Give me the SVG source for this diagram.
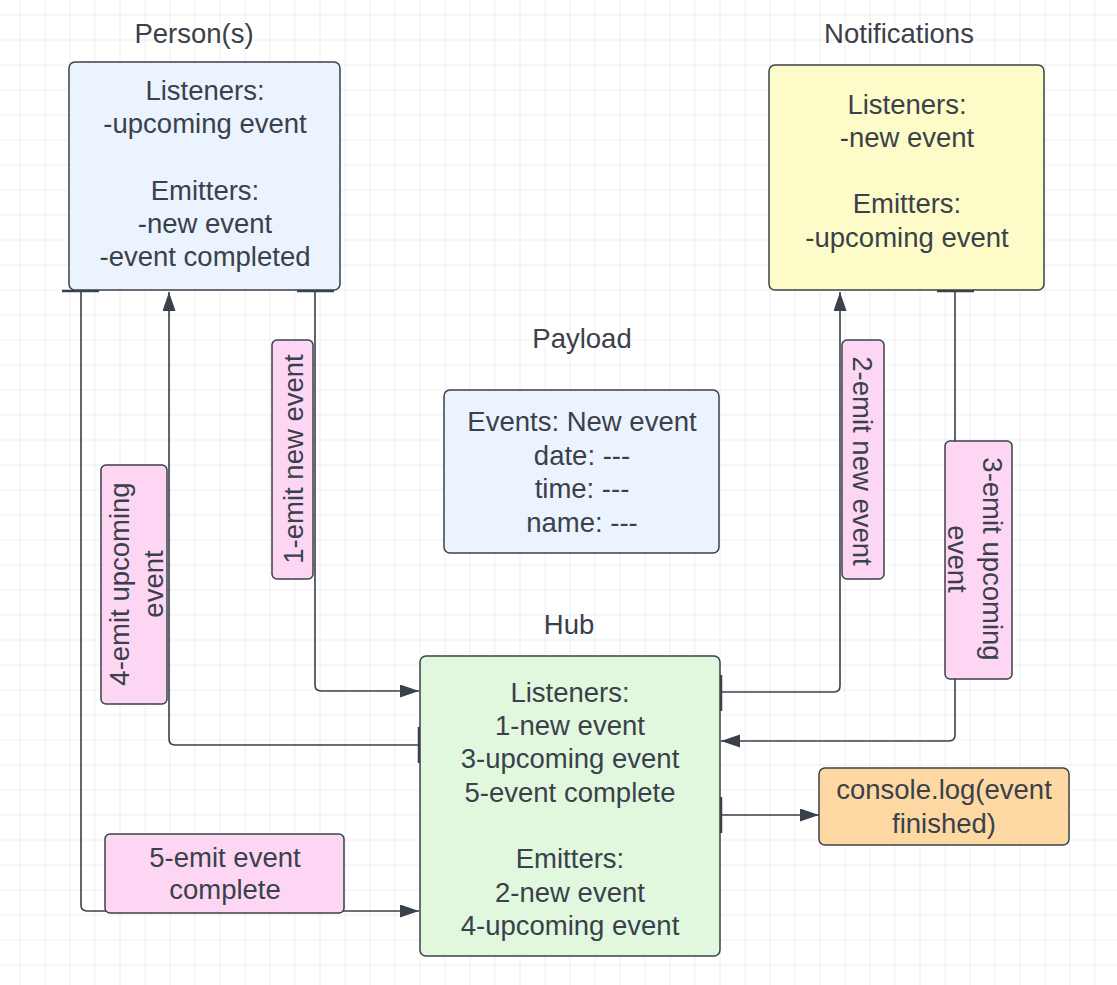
<svg xmlns="http://www.w3.org/2000/svg" width="1117" height="985" viewBox="0 0 1117 985">
<defs>
<pattern id="grid" x="19.5" y="14.5" width="25" height="25" patternUnits="userSpaceOnUse">
<path d="M0 0H25M0 0V25" fill="none" stroke="#dddddd" stroke-width="1"/>
</pattern>
<marker id="arr" markerUnits="userSpaceOnUse" markerWidth="20" markerHeight="14" refX="19" refY="6.5" orient="auto">
<path d="M0 0L19 6.5L0 13Z" fill="#3a414a"/>
</marker>
<style>
.t{font-family:"Liberation Sans",Arial,sans-serif;font-size:27.5px;fill:#3a414a;text-anchor:middle}
.box{stroke:#3a414a;stroke-width:1.5}
.lbl{fill:#fdd6f4;stroke:#3a414a;stroke-width:1.5}
.c{fill:none;stroke:#3a414a;stroke-width:1.6}
.stub{stroke:#3a414a;stroke-width:2.5;fill:none}
</style>
</defs>
<rect width="1117" height="985" fill="#ffffff"/>
<rect width="1117" height="985" fill="url(#grid)"/>

<g id="connectors">
<path class="c" d="M81 291V905Q81 911 87 911H419" marker-end="url(#arr)"/>
<path class="c" d="M418 745H175Q169 745 169 739V292" marker-end="url(#arr)"/>
<path class="c" d="M315 291V685Q315 691 321 691H419" marker-end="url(#arr)"/>
<path class="c" d="M721 692H834Q840 692 840 686V292" marker-end="url(#arr)"/>
<path class="c" d="M955 291V735Q955 741 949 741H721" marker-end="url(#arr)"/>
<path class="c" d="M721 815H819" marker-end="url(#arr)"/>
<path class="stub" d="M62 291H99M297 291H334M937 291H974M419 727V763M721 675V711M721 797V833"/>
</g>

<g id="person">
<text class="t" x="194" y="43">Person(s)</text>
<rect class="box" x="69" y="62" width="271" height="228" rx="6" fill="#ebf3fe"/>
<text class="t" x="205" y="100">Listeners:</text>
<text class="t" x="205" y="133">-upcoming event</text>
<text class="t" x="205" y="200">Emitters:</text>
<text class="t" x="205" y="233">-new event</text>
<text class="t" x="205" y="266">-event completed</text>
</g>

<g id="notifications">
<text class="t" x="899" y="43">Notifications</text>
<rect class="box" x="769" y="65" width="275" height="225" rx="6" fill="#fdfcc8"/>
<text class="t" x="907" y="114">Listeners:</text>
<text class="t" x="907" y="147">-new event</text>
<text class="t" x="907" y="213">Emitters:</text>
<text class="t" x="907" y="247">-upcoming event</text>
</g>

<g id="payload">
<text class="t" x="582" y="348">Payload</text>
<rect class="box" x="444" y="390" width="275" height="163" rx="6" fill="#ebf3fe"/>
<text class="t" x="582" y="431">Events: New event</text>
<text class="t" x="582" y="465">date: ---</text>
<text class="t" x="582" y="498">time: ---</text>
<text class="t" x="582" y="532">name: ---</text>
</g>

<g id="hub">
<text class="t" x="569" y="634">Hub</text>
<rect class="box" x="420" y="656" width="300" height="300" rx="6" fill="#e1f8df"/>
<text class="t" x="570" y="702">Listeners:</text>
<text class="t" x="570" y="735">1-new event</text>
<text class="t" x="570" y="768">3-upcoming event</text>
<text class="t" x="570" y="802">5-event complete</text>
<text class="t" x="570" y="868">Emitters:</text>
<text class="t" x="570" y="902">2-new event</text>
<text class="t" x="570" y="935">4-upcoming event</text>
</g>

<g id="console">
<rect class="box" x="819" y="768" width="250" height="77" rx="6" fill="#fed8a2"/>
<text class="t" x="944" y="799">console.log(event</text>
<text class="t" x="944" y="833">finished)</text>
</g>

<g id="label1">
<rect class="lbl" x="272" y="340" width="41" height="239" rx="5"/>
<text class="t" x="303" y="459" transform="rotate(-90 303 459)">1-emit new event</text>
</g>

<g id="label2">
<rect class="lbl" x="842" y="340" width="42" height="239" rx="5"/>
<text class="t" x="853" y="461" transform="rotate(90 853 461)">2-emit new event</text>
</g>

<g id="label3">
<rect class="lbl" x="945" y="441" width="67" height="238" rx="5"/>
<text class="t" x="983" y="559" transform="rotate(90 983 559)">3-emit upcoming</text>
<text class="t" x="948" y="559" transform="rotate(90 948 559)">event</text>
</g>

<g id="label4">
<rect class="lbl" x="101" y="465" width="66" height="239" rx="5"/>
<text class="t" x="129" y="584" transform="rotate(-90 129 584)">4-emit upcoming</text>
<text class="t" x="163" y="584" transform="rotate(-90 163 584)">event</text>
</g>

<g id="label5">
<rect class="lbl" x="105" y="834" width="239" height="79" rx="5"/>
<text class="t" x="225" y="867">5-emit event</text>
<text class="t" x="225" y="899">complete</text>
</g>
</svg>
